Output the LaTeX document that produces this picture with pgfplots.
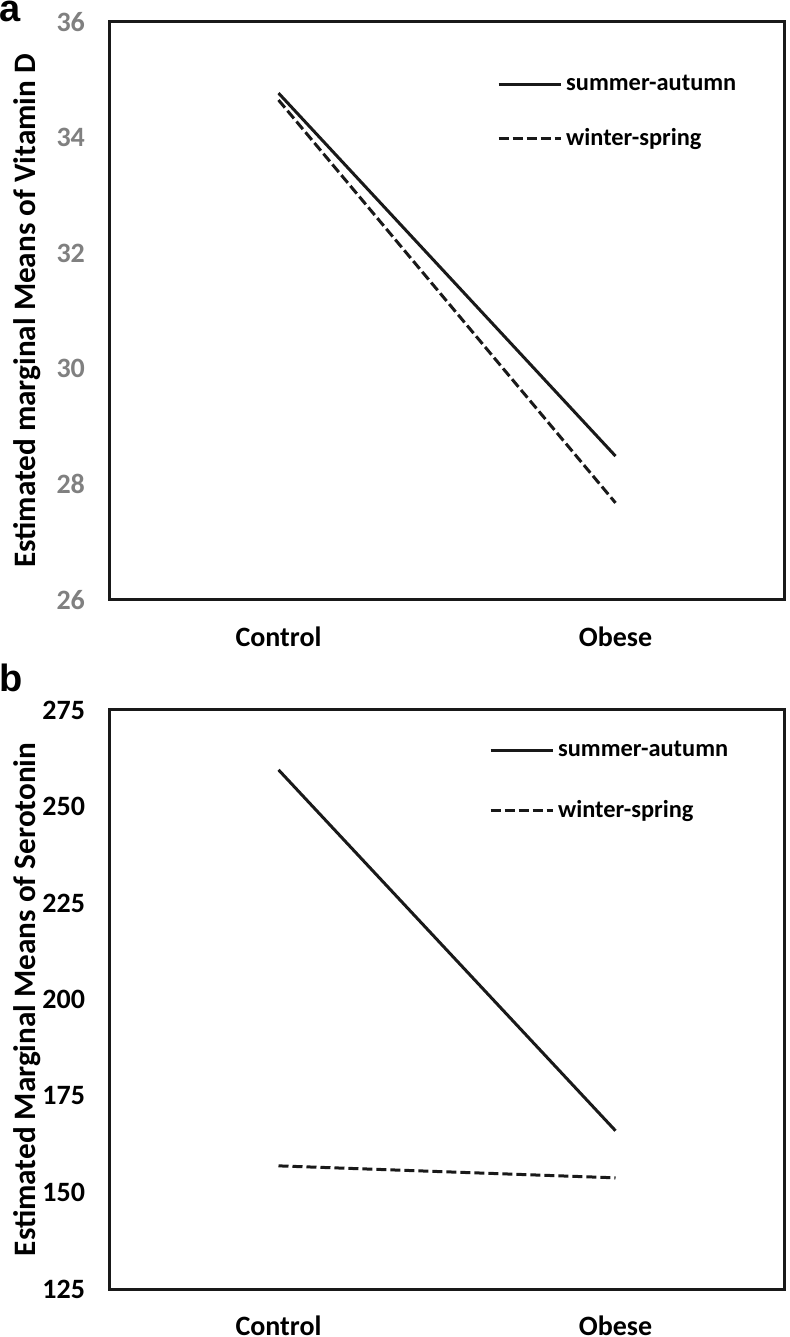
\documentclass[border=0pt]{standalone}
\usepackage{fontspec}
\setmainfont{Carlito}
\newfontfamily\arialb{Liberation Sans}
\usepackage{pgfplots}
\pgfplotsset{compat=1.18}
\pgfplotsset{
 myaxis/.style={
  scale only axis, width=337pt, height=289pt,
  xmin=0, xmax=2, xtick={0.5,1.5}, xticklabels={Control,Obese},
  major tick length=0pt,
  axis line style={line width=1.5pt, black!90},
  tick label style={font=\fontsize{14}{16}\selectfont\bfseries},
  /pgf/number format/assume math mode=true,
  label style={font=\fontsize{15.6}{18}\selectfont\bfseries},
  ylabel style={at={(axis description cs:-0.1225,0.5)}, anchor=center},
  yticklabel style={xshift=-9pt},
  xticklabel style={yshift=-10pt},
  legend style={draw=none, fill=none, font=\fontsize{12.2}{14}\selectfont\bfseries, anchor=north west, row sep=13.5pt},
  legend cell align=left,
  legend image code/.code={\draw[##1] (0pt,0pt) -- (31pt,0pt);},
 },
 sa/.style={black!90, line width=1.5pt},
 ws/.style={black!90, line width=1.5pt, dash pattern=on 5pt off 2pt},
}
\begin{document}
\begin{tikzpicture}
\begin{scope}
\clip (0pt,0pt) rectangle (395pt,668.5pt);
\begin{axis}[myaxis, at={(55pt,368.5pt)}, anchor=south west,
  ymin=26, ymax=36, ytick={26,28,30,32,34,36},
  yticklabel style={text=black!50},
  ylabel={Estimated marginal Means of Vitamin D},
  legend style={at={(axis description cs:0.565,0.922)}}]
\addplot[sa] coordinates {(0.5,34.77) (1.5,28.49)};
\addlegendentry{summer-autumn}
\addplot[ws] coordinates {(0.5,34.65) (1.5,27.68)};
\addlegendentry{winter-spring}
\end{axis}
\begin{axis}[myaxis, at={(55pt,24pt)}, anchor=south west, height=289.5pt,
  ymin=125, ymax=275, ytick={125,150,175,200,225,250,275},
  ylabel={Estimated Marginal Means of Serotonin},
  legend style={at={(axis description cs:0.553,0.961)}, row sep=16.5pt}]
\addplot[sa] coordinates {(0.5,259.5) (1.5,166)};
\addlegendentry{summer-autumn}
\addplot[ws] coordinates {(0.5,156.9) (1.5,153.8)};
\addlegendentry{winter-spring}
\end{axis}
\node[anchor=base west, inner sep=0pt, font=\arialb\bfseries\fontsize{19}{20}\selectfont] at (-0.5pt,657.5pt) {a};
\node[anchor=base west, inner sep=0pt, font=\arialb\bfseries\fontsize{19}{20}\selectfont] at (-0.5pt,322.5pt) {b};
\end{scope}
\pgfresetboundingbox
\useasboundingbox (0pt,0pt) rectangle (395pt,668.5pt);
\end{tikzpicture}
\end{document}
